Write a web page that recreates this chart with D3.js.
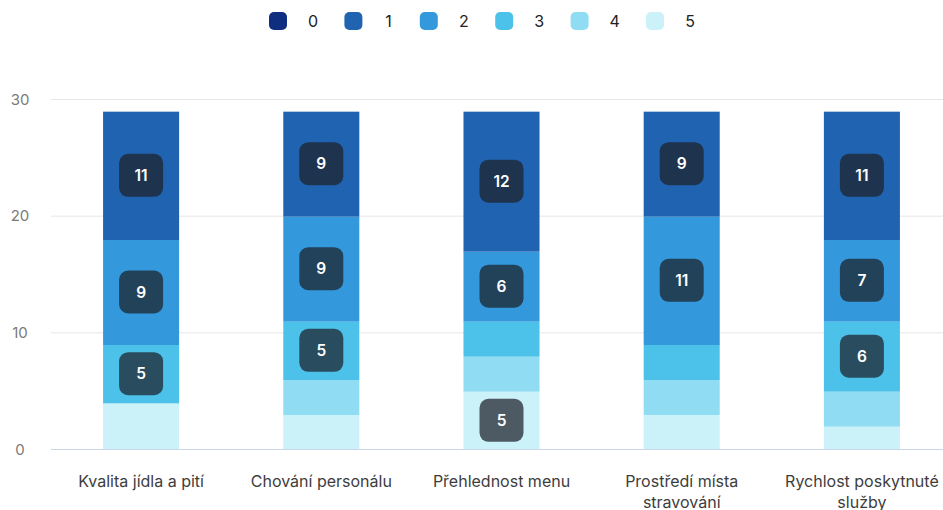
<!DOCTYPE html>
<html><head><meta charset="utf-8">
<script src="https://cdn.jsdelivr.net/npm/d3@7"></script>
<style>body{margin:0;background:#fff;font-family:Inter,"Noto Sans",sans-serif}</style>
</head><body><svg id="c" width="943" height="510"></svg>
<script>
const categories = ["Kvalita jídla a pití", "Chování personálu", "Přehlednost menu", "Prostředí místa stravování", "Rychlost poskytnuté služby"];
const seriesNames = ["0", "1", "2", "3", "4", "5"];
const s0 = [0, 0, 0, 0, 0];
const s1 = [11, 9, 12, 9, 11];
const s2 = [9, 9, 6, 11, 7];
const s3 = [5, 5, 3, 3, 6];
const s4 = [0, 3, 3, 3, 3];
const s5 = [4, 3, 5, 3, 2];
const colors = ["#0f2e80", "#2064b1", "#3399dc", "#4cc1e9", "#90ddf3", "#cbf1f9"];
const yTicks = [0, 10, 20, 30];

const seriesValues = [s0, s1, s2, s3, s4, s5];
const svg = d3.select("#c");
const W = 943, H = 510;
const m = {l: 51, r: -9, t: 99, b: 61};
const x = d3.scaleBand().domain(categories).range([m.l, W - m.r]).paddingInner(0.578).paddingOuter(0.289);
const y = d3.scaleLinear().domain([0, 30]).range([H - m.b, m.t]);

// grid
svg.append("g").selectAll("line").data(yTicks.filter(d => d > 0)).join("line")
  .attr("x1", m.l).attr("x2", W).attr("y1", d => y(d) + 0.5).attr("y2", d => y(d) + 0.5)
  .attr("stroke", "#e6e6e6").attr("stroke-width", 1);
svg.append("g").selectAll("text").data(yTicks).join("text")
  .attr("x", 20).attr("y", d => y(d) + 5.5).attr("text-anchor", "middle")
  .attr("font-size", 15).attr("fill", "#7a7a7a").text(d => d);

// stack: bottom is series 5, top is series 0
const rows = categories.map((c, i) => { const o = {cat: c}; seriesNames.forEach((s, j) => o[s] = seriesValues[j][i]); return o; });
const order = seriesNames.slice().reverse();
const stack = d3.stack().keys(order)(rows);

const gBars = svg.append("g");
stack.forEach(layer => {
  const idx = seriesNames.indexOf(layer.key);
  gBars.selectAll(null).data(layer.filter(d => d[1] - d[0] > 0)).join("rect")
    .attr("x", d => x(d.data.cat)).attr("width", x.bandwidth())
    .attr("y", d => y(d[1]) + 1).attr("height", d => Math.max(0, y(d[0]) - y(d[1])))
    .attr("fill", colors[idx]);
});
const gLab = svg.append("g");
stack.forEach(layer => {
  layer.forEach(d => {
    const v = d[1] - d[0];
    if (v >= 5) {
      const cx = x(d.data.cat) + x.bandwidth() / 2;
      const cy = (y(d[0]) + y(d[1])) / 2 + 0.5;
      gLab.append("rect").attr("x", cx - 22).attr("y", cy - 21.5).attr("width", 44).attr("height", 43)
        .attr("rx", 9).attr("fill", "rgba(28,32,40,0.72)");
      gLab.append("text").attr("x", cx).attr("y", cy + 5.5).attr("text-anchor", "middle")
        .attr("font-size", 15.5).attr("font-weight", 600).attr("fill", "#fff").text(v);
    }
  });
});

// x axis line
svg.append("line").attr("x1", m.l).attr("x2", W).attr("y1", y(0) + 0.5).attr("y2", y(0) + 0.5)
  .attr("stroke", "#ccd6eb").attr("stroke-width", 1);

// x labels with wrapping
const xl = svg.append("g");
categories.forEach(c => {
  const cx = x(c) + x.bandwidth() / 2;
  const t = xl.append("text").attr("x", cx).attr("y", 487).attr("text-anchor", "middle")
    .attr("font-size", 16).attr("fill", "#3d3d3d");
  const words = c.split(" ");
  let lines = [], cur = "";
  const maxW = 165;
  const meas = svg.append("text").attr("font-size", 16).attr("font-family", "Inter");
  words.forEach(w => {
    const test = cur ? cur + " " + w : w;
    meas.text(test);
    if (meas.node().getComputedTextLength() > maxW && cur) { lines.push(cur); cur = w; } else cur = test;
  });
  lines.push(cur);
  meas.remove();
  lines.forEach((l, i) => t.append("tspan").attr("x", cx).attr("dy", i === 0 ? 0 : 21).text(l));
});

// legend
const lg = svg.append("g");
seriesNames.forEach((s, i) => {
  const lx = 269 + i * 75.4;
  lg.append("rect").attr("x", lx).attr("y", 12).attr("width", 18).attr("height", 18).attr("rx", 5).attr("fill", colors[i]);
  lg.append("text").attr("x", lx + 44).attr("y", 27).attr("text-anchor", "middle")
    .attr("font-size", 16).attr("fill", "#222").text(s);
});
</script></body></html>
